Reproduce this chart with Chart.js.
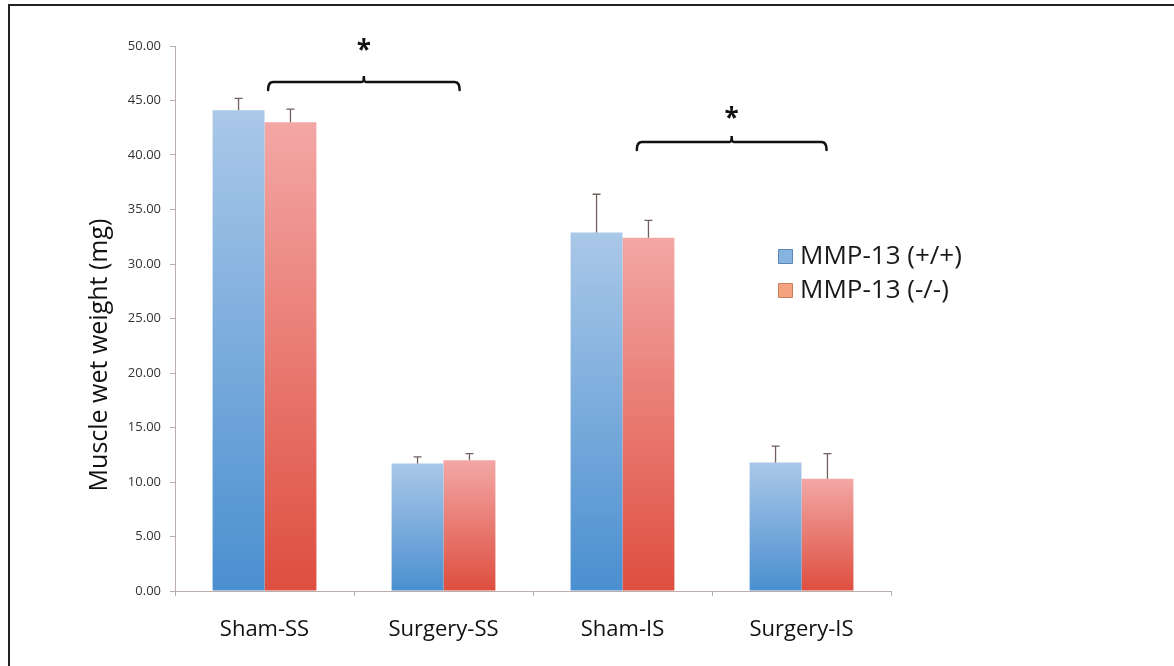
<!DOCTYPE html>
<html>
<head>
<meta charset="utf-8">
<script src="https://cdn.jsdelivr.net/npm/chart.js@4.4.0/dist/chart.umd.min.js"></script>
<style>
  html, body { margin: 0; padding: 0; background: #fff; }
  #wrap { position: relative; width: 1174px; height: 666px; overflow: hidden; }
  #frame { position: absolute; left: 8px; top: 4px; width: 1200px; height: 700px;
           border-top: 2px solid #222; border-left: 2px solid #222; pointer-events: none; }
  canvas { position: absolute; left: 0; top: 0; }
</style>
</head>
<body>
<div id="wrap">
  <canvas id="c" width="1174" height="666"></canvas>
  <div id="frame"></div>
</div>
<script>
// ---- data ----
const categories = ['Sham-SS', 'Surgery-SS', 'Sham-IS', 'Surgery-IS'];
const seriesNames = ['MMP-13 (+/+)', 'MMP-13 (-/-)'];
const wildType = [44.1, 11.7, 32.9, 11.8];
const wildTypeErr = [1.1, 0.6, 3.5, 1.5];
const knockOut = [43.0, 12.0, 32.4, 10.3];
const knockOutErr = [1.2, 0.6, 1.6, 2.3];
const yTicks = [0, 5, 10, 15, 20, 25, 30, 35, 40, 45, 50];
const yTitle = 'Muscle wet weight (mg)';
// significance brackets: category-index span, bracket level (mg), star level (mg)
const bracketFrom = [0.02, 2.08];
const bracketTo = [1.09, 3.14];
const bracketLevel = [46.7, 41.2];
const starLevel = [50.0, 43.8];
const bracketLabel = ['*', '*'];

const FONT = "'Open Sans', 'Noto Sans', sans-serif";

function gradFor(ctx, top, bottom) {
  const chart = ctx.chart;
  const ys = chart.scales.y;
  if (!ys || ctx.dataIndex === undefined) return top;
  const v = ctx.dataset.data[ctx.dataIndex];
  const y0 = ys.getPixelForValue(v);
  const y1 = ys.getPixelForValue(0);
  if (!isFinite(y0) || !isFinite(y1) || y0 === y1) return top;
  const g = chart.ctx.createLinearGradient(0, y0, 0, y1);
  g.addColorStop(0, top);
  g.addColorStop(1, bottom);
  return g;
}

const extras = {
  id: 'extras',
  afterDatasetsDraw(chart) {
    const ctx = chart.ctx;
    const xs = chart.scales.x, ys = chart.scales.y;
    const errs = [wildTypeErr, knockOutErr];
    // error bars
    ctx.save();
    ctx.strokeStyle = '#6f605d';
    ctx.lineWidth = 1.3;
    chart.data.datasets.forEach((ds, di) => {
      const meta = chart.getDatasetMeta(di);
      meta.data.forEach((bar, i) => {
        const v = ds.data[i];
        const yt = ys.getPixelForValue(v + errs[di][i]);
        const yb = ys.getPixelForValue(v);
        ctx.beginPath();
        ctx.moveTo(bar.x, yb);
        ctx.lineTo(bar.x, yt);
        ctx.moveTo(bar.x - 4, yt);
        ctx.lineTo(bar.x + 4, yt);
        ctx.stroke();
      });
    });
    ctx.restore();

    // brackets
    const step = xs.getPixelForValue(1) - xs.getPixelForValue(0);
    ctx.save();
    ctx.strokeStyle = '#111';
    ctx.lineWidth = 2.5;
    ctx.lineCap = 'round';
    for (let k = 0; k < bracketFrom.length; k++) {
      const x1 = xs.getPixelForValue(0) + bracketFrom[k] * step;
      const x2 = xs.getPixelForValue(0) + bracketTo[k] * step;
      const xm = (x1 + x2) / 2;
      const y = ys.getPixelForValue(bracketLevel[k]);
      ctx.beginPath();
      ctx.moveTo(x1, y + 8);
      ctx.quadraticCurveTo(x1, y, x1 + 5, y);
      ctx.lineTo(xm - 2, y);
      ctx.quadraticCurveTo(xm, y, xm, y - 6);
      ctx.quadraticCurveTo(xm, y, xm + 2, y);
      ctx.lineTo(x2 - 5, y);
      ctx.quadraticCurveTo(x2, y, x2, y + 8);
      ctx.stroke();
      ctx.fillStyle = '#111';
      ctx.font = "bold 26px " + FONT;
      ctx.textAlign = 'center';
      ctx.textBaseline = 'middle';
      ctx.fillText(bracketLabel[k], xm, ys.getPixelForValue(starLevel[k]) + 6);
    }
    ctx.restore();

    // y-axis title
    ctx.save();
    ctx.translate(100, 355);
    ctx.rotate(-Math.PI / 2);
    ctx.font = "25px " + FONT;
    ctx.fillStyle = '#111';
    ctx.textAlign = 'center';
    ctx.textBaseline = 'middle';
    ctx.fillText(yTitle, 0, 0);
    ctx.restore();

    // legend
    ctx.save();
    const lx = 778, ly = [257, 291];
    const fills = ['#86b4e0', '#f4a37f'];
    const strokes = ['#5a86b8', '#c77f5e'];
    ctx.font = "26px " + FONT;
    ctx.textAlign = 'left';
    ctx.textBaseline = 'middle';
    for (let k = 0; k < 2; k++) {
      ctx.fillStyle = fills[k];
      ctx.strokeStyle = strokes[k];
      ctx.lineWidth = 1;
      ctx.beginPath();
      ctx.rect(lx + 0.5, ly[k] - 7.5, 14, 14);
      ctx.fill();
      ctx.stroke();
      ctx.fillStyle = '#1a1a1a';
      ctx.fillText(seriesNames[k], lx + 22, ly[k]);
    }
    ctx.restore();
  }
};

new Chart(document.getElementById('c'), {
  type: 'bar',
  data: {
    labels: categories,
    datasets: [
      { label: seriesNames[0], data: wildType,
        backgroundColor: (c) => gradFor(c, '#aac8e8', '#4a8fd0'),
        borderWidth: 0, categoryPercentage: 0.58, barPercentage: 1.0 },
      { label: seriesNames[1], data: knockOut,
        backgroundColor: (c) => gradFor(c, '#f3a7a5', '#de4e3f'),
        borderWidth: 0, categoryPercentage: 0.58, barPercentage: 1.0 }
    ]
  },
  options: {
    responsive: false,
    animation: false,
    layout: { padding: { left: 85, right: 283, top: 46, bottom: 0 } },
    plugins: { legend: { display: false }, tooltip: { enabled: false } },
    scales: {
      x: {
        grid: { display: true, drawOnChartArea: false, drawTicks: true, tickLength: 5, color: '#b9aeaa', offset: true },
        border: { display: true, color: '#b9aeaa', width: 1 },
        ticks: { color: '#111', font: { size: 22, family: FONT }, padding: 21, maxRotation: 0 },
        afterFit: (s) => { s.height = 75; }
      },
      y: {
        min: 0, max: 50,
        afterBuildTicks: (s) => { s.ticks = yTicks.map(v => ({ value: v })); },
        grid: { display: true, drawOnChartArea: false, drawTicks: true, tickLength: 5, color: '#b9aeaa' },
        border: { display: true, color: '#b9aeaa', width: 1 },
        ticks: { color: '#333', font: { size: 13, family: FONT }, padding: 9,
                 callback: (v) => Number(v).toFixed(2) },
        title: { display: false },
        afterFit: (s) => { s.width = 90; }
      }
    }
  },
  plugins: [extras]
});
</script>
</body>
</html>
